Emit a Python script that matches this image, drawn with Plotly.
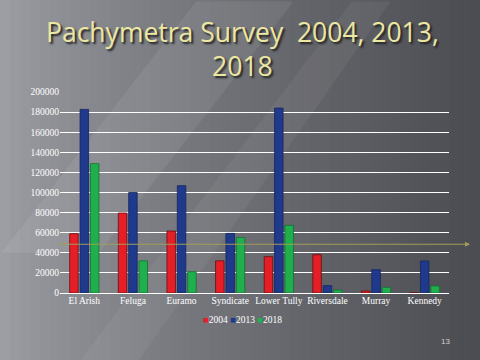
import plotly.graph_objects as go

categories = ["El Arish", "Feluga", "Euramo", "Syndicate", "Lower Tully", "Riversdale", "Murray", "Kennedy"]
v2004 = [59000, 79600, 61700, 32000, 36100, 38100, 2000, 300]
v2013 = [182700, 100000, 106800, 59300, 184000, 7300, 23200, 31800]
v2018 = [128700, 32000, 21200, 55300, 67300, 3000, 5600, 7000]
years = ["2004", "2013", "2018"]
yticks = list(range(0, 200001, 20000))
title_lines = ["Pachymetra Survey  2004, 2013,", "2018"]

colors = ["#e61e27", "#1f3a8c", "#1fb04d"]
edges = ["#6a0c10", "#14265e", "#137031"]

fig = go.Figure()
for name, vals, c, e in zip(years, [v2004, v2013, v2018], colors, edges):
    fig.add_trace(go.Bar(x=categories, y=vals, name=name, showlegend=False,
                         marker=dict(color=c, line=dict(color=e, width=0.8))))

# background gradient (bands)
shapes = []
n = 48
def lerp(a, b, t):
    return int(a + (b - a) * t)
c0 = (0x9c, 0x9e, 0xa4)
c1 = (0x4c, 0x4d, 0x52)
for i in range(n):
    t = i / (n - 1)
    col = "rgb(%d,%d,%d)" % tuple(lerp(a, b, t ** 0.8) for a, b in zip(c0, c1))
    shapes.append(dict(type="rect", xref="paper", yref="paper",
                       x0=-60/389 + i * (480/389) / n, x1=-60/389 + (i + 1.1) * (480/389) / n,
                       y0=-68/201, y1=293/201, fillcolor=col, line=dict(width=0), layer="below"))
# diagonal light streaks
shapes.append(dict(type="path", xref="paper", yref="paper",
                   path="M -0.15 0.2 L 0.35 1.45 L 0.6 1.45 L 0.1 0.2 Z",
                   fillcolor="rgba(255,255,255,0.07)", line=dict(width=0), layer="below"))
shapes.append(dict(type="path", xref="paper", yref="paper",
                   path="M 0.05 -0.34 L 0.75 1.45 L 0.85 1.45 L 0.2 -0.34 Z",
                   fillcolor="rgba(255,255,255,0.05)", line=dict(width=0), layer="below"))
# olive reference line
shapes.append(dict(type="line", xref="paper", yref="y", x0=-0.005, x1=1.05, y0=48500, y1=48500,
                   line=dict(color="#a39c58", width=1)))

legend_text = "&nbsp;".join(
    "<span style='color:%s'>■</span>%s" % (c, y) for c, y in zip(colors, years))

title_font = dict(family="Open Sans", size=26.5, color="#ece7a2", shadow="2px 2px 2px #222")
annotations = [
    dict(text="<br>".join(title_lines), xref="paper", yref="paper",
         x=(242 - 60) / 389, y=(293 - 12) / 201, xanchor="center", yanchor="top",
         showarrow=False, align="center", font=title_font),
    dict(x=1.054, y=48500, xref="paper", yref="y", text="", showarrow=True,
         ax=-4, ay=0, axref="pixel", ayref="pixel", arrowhead=2, arrowsize=1,
         arrowwidth=1, arrowcolor="#a39c58"),
    dict(text=legend_text, xref="paper", yref="paper", x=(242 - 60) / 389, y=(293 - 320) / 201,
         xanchor="center", yanchor="middle", showarrow=False,
         font=dict(family="Liberation Serif", size=9.5, color="white")),
    dict(text="13", xref="paper", yref="paper", x=(452 - 60) / 389, y=(293 - 348) / 201,
         showarrow=False, font=dict(family="Liberation Sans", size=8, color="#d0d0d0")),
]

fig.update_layout(
    width=480, height=360,
    margin=dict(l=60, r=31, t=92, b=67, autoexpand=False),
    paper_bgcolor="#6a6b70",
    plot_bgcolor="rgba(0,0,0,0)",
    shapes=shapes,
    barmode="group",
    bargap=0.36,
    bargroupgap=0.18,
    showlegend=False,
    xaxis=dict(tickfont=dict(family="Liberation Serif", size=9.5, color="white"),
               showgrid=False, showline=False, ticks="", ticklen=0),
    yaxis=dict(range=[0, 200000], tickvals=yticks, ticktext=[str(v) for v in yticks],
               tickfont=dict(family="Liberation Serif", size=9.5, color="white"),
               showgrid=True, gridcolor="white", gridwidth=1,
               zeroline=True, zerolinecolor="white", zerolinewidth=1, showline=False),
    annotations=annotations,
)

fig.write_html("out.html", config={"displayModeBar": False},
               post_script="document.body.style.margin='0';")
